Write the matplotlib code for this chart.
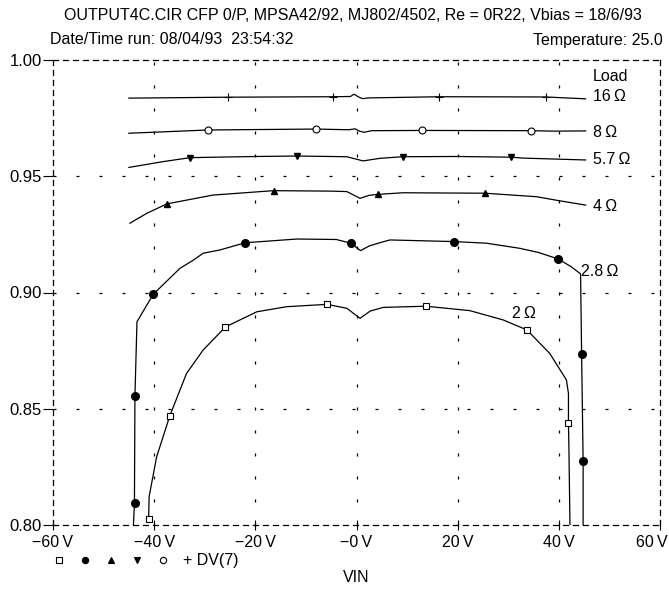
import numpy as np
import matplotlib
matplotlib.use("Agg")
import matplotlib.pyplot as plt
import matplotlib.transforms as mtransforms

plt.rcParams['font.family'] = ['Liberation Sans', 'DejaVu Sans']

# curves: VIN (V) vs gain, one per load
x16 = [-45, -25.4, -4.7, -1.2, -0.5, 0.5, 1.2, 2.5, 16.4, 37.4, 45.3]
y16 = [0.9836, 0.9840, 0.9842, 0.9843, 0.9853, 0.9840, 0.9834, 0.9837, 0.9842, 0.9841, 0.9833]
x8 = [-45, -29.3, -8.0, -1.5, -0.3, 0.6, 1.5, 3, 13.0, 34.4, 39, 45.3]
y8 = [0.9685, 0.9699, 0.9703, 0.9700, 0.9704, 0.9694, 0.9689, 0.9696, 0.9697, 0.9696, 0.9694, 0.9695]
x57 = [-45, -38.2, -32.9, -20, -11.8, -1.9, 1.3, 4.6, 9.1, 20, 30.5, 33, 45.3]
y57 = [0.9538, 0.9563, 0.9580, 0.9585, 0.9587, 0.9584, 0.9566, 0.9577, 0.9584, 0.9585, 0.9582, 0.9578, 0.9570]
x4 = [-44.8, -41.5, -37.5, -28.4, -16.4, -5, -1.9, 0.7, 2.5, 4.2, 9.2, 25.4, 35.6, 40, 45.3]
y4 = [0.9298, 0.9340, 0.9381, 0.9419, 0.9438, 0.9436, 0.9434, 0.9405, 0.9418, 0.9422, 0.9429, 0.9427, 0.9412, 0.9395, 0.9376]
x28 = [-44.1, -43.9, -43.8, -43.4, -40.2, -34.9, -32.2, -30.3, -27, -22.0, -11.8, -4, -1.1, 0.8,
       2.5, 4.6, 6.6, 19.3, 25.7, 32.3, 36, 39.9, 42.5, 44.3, 44.5, 44.8, 44.8]
y28 = [0.80, 0.8093, 0.8556, 0.8874, 0.8992, 0.9104, 0.9140, 0.9169, 0.9183, 0.9214, 0.9230, 0.9228,
       0.9212, 0.9180, 0.9200, 0.9214, 0.9226, 0.9219, 0.9212, 0.9190, 0.9172, 0.9144, 0.9110, 0.9080,
       0.8735, 0.8277, 0.80]
x2 = [-41.1, -41.0, -39.5, -36.9, -33.6, -30.3, -25.9, -19.7, -13.8, -5.8, -1.9, 0.7, 2.7, 5.3,
      13.7, 22.4, 29.0, 33.7, 38.2, 41.5, 41.9, 41.9, 42.0, 42.2]
y2 = [0.8024, 0.8122, 0.8294, 0.8470, 0.8652, 0.8753, 0.8852, 0.8917, 0.8939, 0.8949, 0.8932, 0.8889,
      0.8920, 0.8936, 0.8941, 0.8922, 0.8882, 0.8839, 0.8738, 0.8624, 0.8566, 0.8440, 0.8323, 0.80]

# marker positions
mx16 = [-25.4, -4.7, 16.4, 37.4]
my16 = [0.9840, 0.9842, 0.9842, 0.9841]
mx8 = [-29.3, -8.0, 13.0, 34.4]
my8 = [0.9699, 0.9703, 0.9697, 0.9696]
mx57 = [-32.9, -11.8, 9.1, 30.5]
my57 = [0.9580, 0.9587, 0.9584, 0.9582]
mx4 = [-37.5, -16.4, 4.2, 25.4]
my4 = [0.9381, 0.9438, 0.9422, 0.9427]
mx28 = [-43.8, -43.8, -40.2, -22.0, -1.1, 19.3, 39.9, 44.5, 44.8]
my28 = [0.8093, 0.8556, 0.8992, 0.9214, 0.9212, 0.9219, 0.9144, 0.8735, 0.8277]
mx2 = [-41.1, -36.9, -25.9, -5.8, 13.7, 33.7, 41.9]
my2 = [0.8024, 0.8470, 0.8852, 0.8949, 0.8941, 0.8839, 0.8440]

xticks = [-60, -40, -20, 0, 20, 40, 60]
xticklabels = ['\u221260\u2009V', '\u221240\u2009V', '\u221220\u2009V', '\u22120\u2009V',
               '20\u2009V', '40\u2009V', '60\u2009V']
yticks = [0.80, 0.85, 0.90, 0.95, 1.00]

load_labels = ['16\u2009\u03a9', '8\u2009\u03a9', '5.7\u2009\u03a9', '4\u2009\u03a9', '2.8\u2009\u03a9', '2\u2009\u03a9']
label_x = [46.8, 46.8, 46.8, 46.8, 44.3, 30.7]
label_y = [0.9845, 0.9690, 0.9570, 0.9372, 0.9092, 0.8908]

fs = 11.5
fig = plt.figure(figsize=(6.69, 5.89), dpi=100)
ax = fig.add_axes([53/669, 1-525/589, 607/669, 465/589])

lw = 0.9
for xs, ys in [(x16, y16), (x8, y8), (x57, y57), (x4, y4), (x28, y28), (x2, y2)]:
    ax.plot(xs, ys, color='black', lw=lw, zorder=3)

ms = 5
ax.plot(mx16, my16, ls='none', marker='+', ms=6, mec='black', mew=0.8, zorder=4)
ax.plot(mx8, my8, ls='none', marker='o', ms=ms, mfc='white', mec='black', mew=0.8, zorder=4)
ax.plot(mx57, my57, ls='none', marker='v', ms=ms, mfc='black', mec='black', zorder=4)
ax.plot(mx4, my4, ls='none', marker='^', ms=ms, mfc='black', mec='black', zorder=4)
ax.plot(mx28, my28, ls='none', marker='o', ms=5.5, mfc='black', mec='black', zorder=4)
ax.plot(mx2, my2, ls='none', marker='s', ms=ms, mfc='white', mec='black', mew=0.8, zorder=4)

for t, lx, ly in zip(load_labels, label_x, label_y):
    ax.text(lx, ly, t, fontsize=fs, va='center', ha='left', zorder=5)
ax.text(46.8, 0.9931, 'Load', fontsize=fs, va='center', ha='left')

ax.set_xlim(-60, 60)
ax.set_ylim(0.80, 1.00)
ax.set_xticks(xticks)
ax.set_xticklabels(xticklabels, fontsize=fs)
ax.set_yticks(yticks)
ax.set_yticklabels(['%.2f' % v for v in yticks], fontsize=12)
ax.tick_params(axis='x', direction='inout', length=7, width=0.8, pad=4)
ax.tick_params(axis='y', direction='out', length=7, width=0.8, pad=1)

last = ax.get_xticklabels()[-1]
last.set_ha('right')
last.set_transform(last.get_transform() + mtransforms.ScaledTranslation(8/100, 0, fig.dpi_scale_trans))

grid_ls = (0, (2.4, 16))
for v in [-40, -20, 0, 20, 40]:
    ax.axvline(v, color='black', lw=0.9, ls=grid_ls, zorder=1)
for v in [0.85, 0.90, 0.95]:
    ax.axhline(v, color='black', lw=0.9, ls=grid_ls, zorder=1)

for s in ax.spines.values():
    s.set_linestyle((0, (4, 4)))
    s.set_linewidth(0.9)

fig.text(353/669, 1-15/589, 'OUTPUT4C.CIR CFP 0/P, MPSA42/92, MJ802/4502, Re = 0R22, Vbias = 18/6/93',
         ha='center', va='center', fontsize=fs)
fig.text(50/669, 1-40/589, 'Date/Time run: 08/04/93  23:54:32', ha='left', va='center', fontsize=fs)
fig.text(663/669, 1-40/589, 'Temperature: 25.0', ha='right', va='center', fontsize=fs)

# legend row of symbols
leg_y = 1 - 560/589
leg_marks = [('s', 'white'), ('o', 'black'), ('^', 'black'), ('v', 'black'), ('o', 'white')]
leg_px = [59, 85, 111, 137, 163]
for (m, fc), px in zip(leg_marks, leg_px):
    fig.add_artist(plt.Line2D([px/669], [leg_y], marker=m, ms=4.5, mfc=fc, mec='black', mew=0.8,
                              ls='none', transform=fig.transFigure))
fig.text(183/669, leg_y, '+ DV(7)', ha='left', va='center', fontsize=fs)
fig.text(356.5/669, 1-578/589, 'VIN', ha='center', va='center', fontsize=fs)

fig.savefig('out.png', dpi=100)
